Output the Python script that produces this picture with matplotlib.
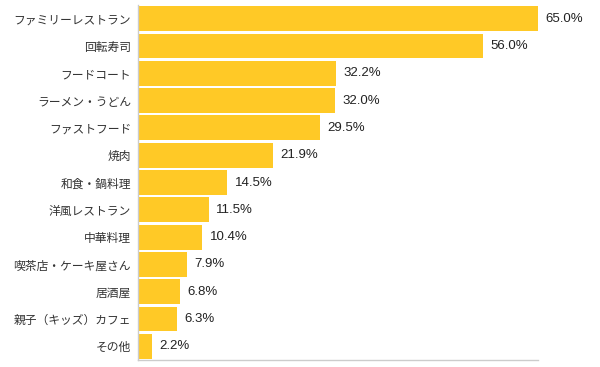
import matplotlib
matplotlib.use("Agg")
import matplotlib.pyplot as plt

plt.rcParams['font.family'] = ['Noto Sans CJK JP', 'DejaVu Sans']

categories = ["ファミリーレストラン", "回転寿司", "フードコート", "ラーメン・うどん", "ファストフード",
              "焼肉", "和食・鍋料理", "洋風レストラン", "中華料理", "喫茶店・ケーキ屋さん",
              "居酒屋", "親子（キッズ）カフェ", "その他"]
values = [65.0, 56.0, 32.2, 32.0, 29.5, 21.9, 14.5, 11.5, 10.4, 7.9, 6.8, 6.3, 2.2]

fig = plt.figure(figsize=(6, 3.67), dpi=100)
ax = fig.add_axes([138/600, 1-360/367, 400/600, 355/367])

ys = list(range(len(categories)))
ax.barh(ys, values, height=0.91, color='#FFC926', edgecolor='none')
ax.set_ylim(len(categories) - 0.5, -0.5)
ax.set_xlim(0, 65)

for y, v in zip(ys, values):
    ax.annotate(f"{v:.1f}%", (v, y), xytext=(5.5, 0), textcoords='offset points',
                va='center', ha='left', fontsize=9.5, color='#222222',
                family=['Liberation Sans', 'DejaVu Sans'])

ax.set_yticks(ys)
ax.set_yticklabels(categories, fontsize=8.5, color='#333333')
ax.tick_params(axis='y', length=0, pad=5)
ax.set_xticks([])
for s in ['top', 'right']:
    ax.spines[s].set_visible(False)
for s in ['left', 'bottom']:
    ax.spines[s].set_color('#cccccc')
    ax.spines[s].set_linewidth(1)

fig.savefig('out.png', dpi=100)
